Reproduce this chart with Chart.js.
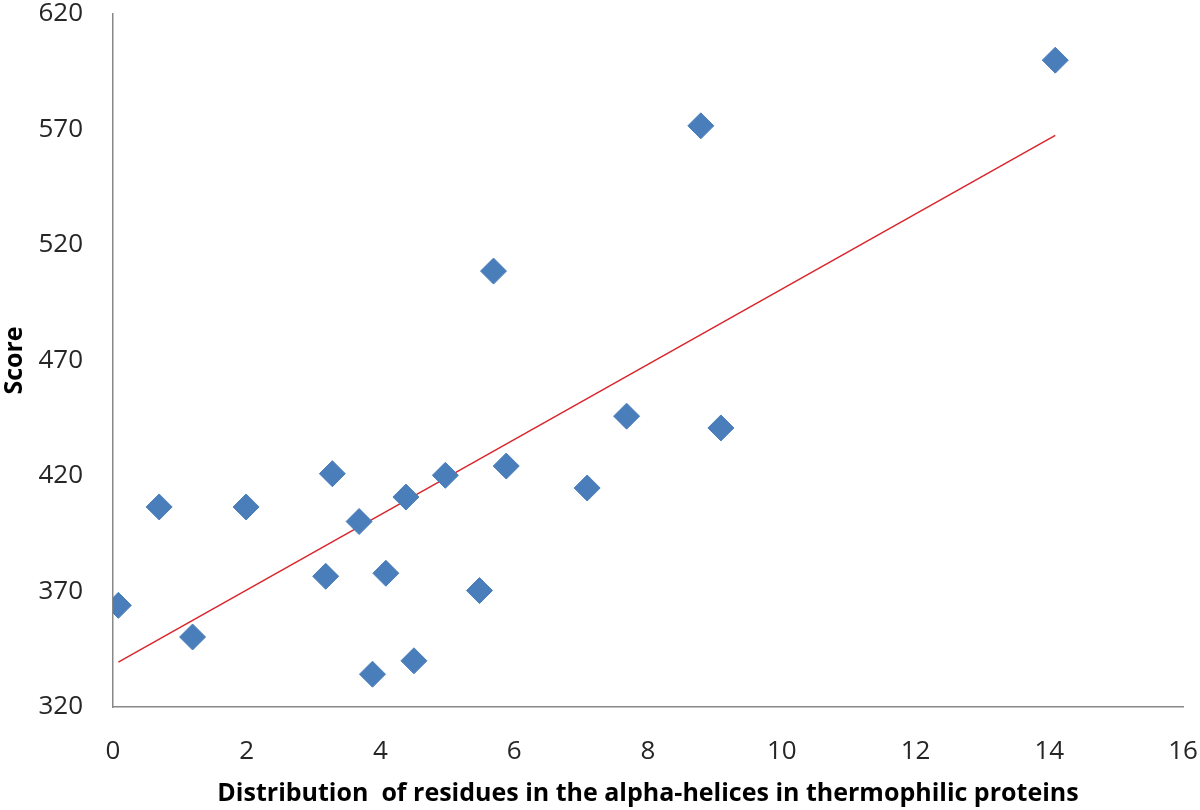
<!DOCTYPE html>
<html>
<head>
<meta charset="utf-8">
<script src="https://cdn.jsdelivr.net/npm/chart.js@4"></script>
<style>
html,body{margin:0;padding:0;background:#fff;}
#wrap{width:1200px;height:810px;position:relative;}
</style>
</head>
<body>
<div id="wrap"><canvas id="c" width="1200" height="810"></canvas></div>
<script>
const distribution = [0.08, 0.69, 1.19, 1.99, 3.18, 3.28, 3.68, 3.88, 4.08, 4.38, 4.50, 4.97, 5.48, 5.69, 5.88, 7.09, 7.68, 8.79, 9.09, 14.09];
const score = [364.0, 406.6, 350.3, 406.6, 376.6, 421.0, 400.3, 334.2, 377.9, 410.9, 340.0, 420.3, 370.4, 508.7, 424.3, 414.8, 445.9, 571.6, 440.8, 600.0];
const xTicks = [0, 2, 4, 6, 8, 10, 12, 14, 16];
const yTicks = [320, 370, 420, 470, 520, 570, 620];
const xTitle = 'Distribution  of residues in the alpha-helices in thermophilic proteins';
const yTitle = 'Score';

const points = distribution.map((x, i) => ({x: x, y: score[i]}));

// linear least-squares trend line
const n = distribution.length;
const mx = distribution.reduce((a, b) => a + b, 0) / n;
const my = score.reduce((a, b) => a + b, 0) / n;
let sxy = 0, sxx = 0;
for (let i = 0; i < n; i++) { sxy += (distribution[i] - mx) * (score[i] - my); sxx += (distribution[i] - mx) ** 2; }
const slope = sxy / sxx, intercept = my - slope * mx;
const xmin = Math.min(...distribution), xmax = Math.max(...distribution);
const trend = [{x: xmin, y: intercept + slope * xmin}, {x: xmax, y: intercept + slope * xmax}];

const tickFont = {family: "'Open Sans', sans-serif", size: 26};
const titleFont = {family: "'Open Sans', sans-serif", size: 25, weight: 'bold'};

new Chart(document.getElementById('c'), {
  type: 'scatter',
  data: {
    datasets: [
      {
        type: 'line',
        data: trend,
        borderColor: '#D9262C',
        borderWidth: 1.5,
        pointRadius: 0,
        fill: false,
        order: 2
      },
      {
        data: points,
        pointStyle: 'rectRot',
        pointRadius: 13,
        pointHoverRadius: 13,
        backgroundColor: '#4A7EBB',
        borderColor: '#4A7EBB',
        borderWidth: 1,
        order: 1
      }
    ]
  },
  options: {
    responsive: false,
    animation: false,
    devicePixelRatio: 1,
    layout: {padding: {top: 11, right: 17, left: 0, bottom: 0}},
    plugins: {legend: {display: false}, tooltip: {enabled: false}},
    scales: {
      x: {
        type: 'linear',
        min: 0, max: 16,
        afterBuildTicks: s => { s.ticks = xTicks.map(v => ({value: v})); },
        afterFit: s => { s.height = 103; s.paddingLeft = 0; s.paddingRight = 0; },
        grid: {display: false, drawTicks: false},
        border: {display: true, color: '#888888', width: 1.5},
        ticks: {font: tickFont, color: '#262626', padding: 29, maxRotation: 0},
        title: {display: true, text: xTitle, font: titleFont, color: '#000', padding: {top: 0, bottom: 1}}
      },
      y: {
        type: 'linear',
        min: 320, max: 620,
        afterBuildTicks: s => { s.ticks = yTicks.map(v => ({value: v})); },
        afterFit: s => { s.width = 113; s.paddingTop = 0; s.paddingBottom = 0; },
        grid: {display: false, drawTicks: false},
        border: {display: true, color: '#888888', width: 1.5},
        ticks: {font: tickFont, color: '#262626', padding: 30},
        title: {display: true, text: yTitle, font: titleFont, color: '#000', padding: {top: 0, bottom: 0}}
      }
    }
  }
});
</script>
</body>
</html>
